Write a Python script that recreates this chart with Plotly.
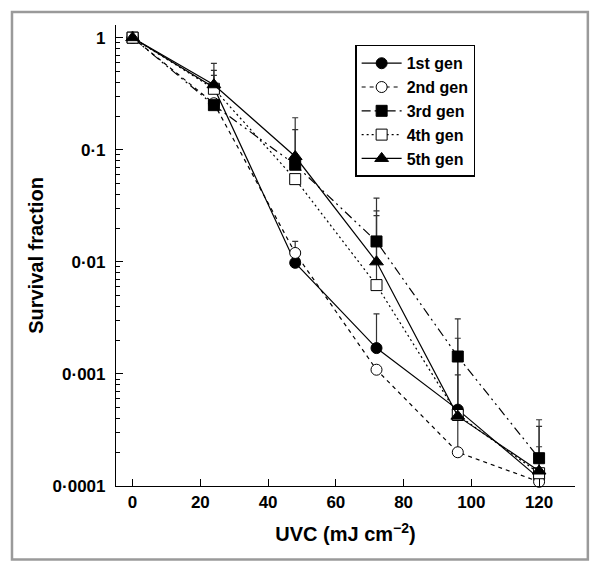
import plotly.graph_objects as go

# ---- data ----
dose = [0, 24, 48, 72, 96, 120]
gen1 = [1, 0.36, 0.0098, 0.0017, 0.00048, 0.000117]
gen2 = [1, 0.26, 0.012, 0.00109, 0.00020, 0.000109]
gen3 = [1, 0.25, 0.0735, 0.0152, 0.00143, 0.000177]
gen4 = [1, 0.35, 0.0547, 0.0062, 0.00043, 0.00013]
gen5 = [1, 0.38, 0.087, 0.0100, 0.00042, 0.000136]

# upper error-bar tops (None = no bar)
err1 = [None, 0.46, None, 0.00343, None, 0.000224]
err2 = [None, None, 0.0152, None, None, None]
err3 = [None, None, 0.151, 0.037, 0.0031, 0.00039]
err4 = [None, 0.51, None, 0.0258, 0.00098, None]
err5 = [None, 0.59, 0.193, 0.0285, 0.00208, 0.00034]
# lower error-bar bottom (3rd gen at 96)
err3_low = [None, None, None, None, 0.00021, None]

names = ["1st gen", "2nd gen", "3rd gen", "4th gen", "5th gen"]
y_ticks = [1, 0.1, 0.01, 0.001, 0.0001]
y_ticktext = ["1", "0·1", "0·01", "0·001", "0·0001"]
x_ticks = [0, 20, 40, 60, 80, 100, 120]
decades = [0.0001, 0.001, 0.01, 0.1]
minor_mult = [2, 3, 4, 5, 6, 7, 8, 9]

series = [gen1, gen2, gen3, gen4, gen5]
errs = [err1, err2, err3, err4, err5]
lows = [None, None, err3_low, None, None]
styles = [
    dict(dash="solid", symbol="circle", fill="black"),
    dict(dash="4px,4px", symbol="circle", fill="white"),
    dict(dash="9px,4px,2px,4px,2px,4px", symbol="square", fill="black"),
    dict(dash="2px,3px", symbol="square", fill="white"),
    dict(dash="solid", symbol="triangle-up", fill="black"),
]

fig = go.Figure()

# error bars first (under markers)
for s, e, lo in zip(series, errs, lows):
    xs, ys, up, dn = [], [], [], []
    for i, (v, t) in enumerate(zip(s, e)):
        b = lo[i] if lo is not None else None
        if t is not None or b is not None:
            xs.append(dose[i])
            ys.append(v)
            up.append((t - v) if t is not None else 0)
            dn.append((v - b) if b is not None else 0)
    if xs:
        fig.add_trace(go.Scatter(
            x=xs, y=ys, mode="markers", showlegend=False, hoverinfo="skip",
            marker=dict(size=1, color="rgba(0,0,0,0)"),
            error_y=dict(type="data", symmetric=False, array=up, arrayminus=dn,
                         color="#333", thickness=1.2, width=3),
        ))

for name, s, st in zip(names, series, styles):
    fig.add_trace(go.Scatter(
        x=dose, y=s, mode="lines+markers", name="<b>" + name + "</b>",
        line=dict(color="black", width=1.2, dash=st["dash"]),
        marker=dict(symbol=st["symbol"], size=11 if st["symbol"] != "triangle-up" else 12,
                    color=st["fill"], line=dict(color="black", width=1)),
        cliponaxis=False,
    ))

minor_vals = [d * m for d in decades for m in minor_mult]

fig.update_layout(
    width=600, height=570,
    margin=dict(l=116, r=25, t=25, b=84),
    paper_bgcolor="white", plot_bgcolor="white",
    font=dict(family="Liberation Sans, Arial, sans-serif", color="black"),
    showlegend=True,
    legend=dict(
        x=0.521, y=0.957, xanchor="left", yanchor="top",
        bgcolor="white", bordercolor="black", borderwidth=1.5,
        font=dict(size=16, color="black"), itemwidth=40,
        tracegroupgap=0,
    ),
    xaxis=dict(
        range=[-4.9, 130.6], tickvals=x_ticks, ticks="inside", ticklen=7,
        tickwidth=1, tickcolor="black", automargin=False,
        showline=True, linecolor="black", linewidth=1.2, showgrid=False, zeroline=False,
        tickfont=dict(size=17, family="Liberation Sans, Arial", weight="bold"),
        title=dict(text="<b>UVC (mJ cm<sup>−2</sup>)</b>", font=dict(size=20), standoff=16),
        mirror=False,
    ),
    yaxis=dict(
        type="log", range=[-4, 0.113], tickvals=y_ticks, ticktext=y_ticktext,
        ticks="inside", ticklen=7, tickwidth=1, tickcolor="black", automargin=False,
        showline=True, linecolor="black", linewidth=1.2, showgrid=False, zeroline=False,
        tickfont=dict(size=17, family="Liberation Sans, Arial", weight="bold"),
        ticklabelstandoff=6,
        minor=dict(tickmode="array", tickvals=minor_vals, ticks="inside", ticklen=4,
                   tickcolor="black", tickwidth=1, showgrid=False),
        title=dict(text="<b>Survival fraction</b>", font=dict(size=20), standoff=3),
    ),
    shapes=[dict(type="rect", xref="paper", yref="paper",
                 x0=-0.2266, x1=1.028, y0=-0.1596, y1=1.028,
                 line=dict(color="#9a9a9a", width=2.5), fillcolor="rgba(0,0,0,0)",
                 layer="below")],
)

fig.write_html("out.html", config={"displayModeBar": False},
               post_script="document.body.style.margin='0';")
